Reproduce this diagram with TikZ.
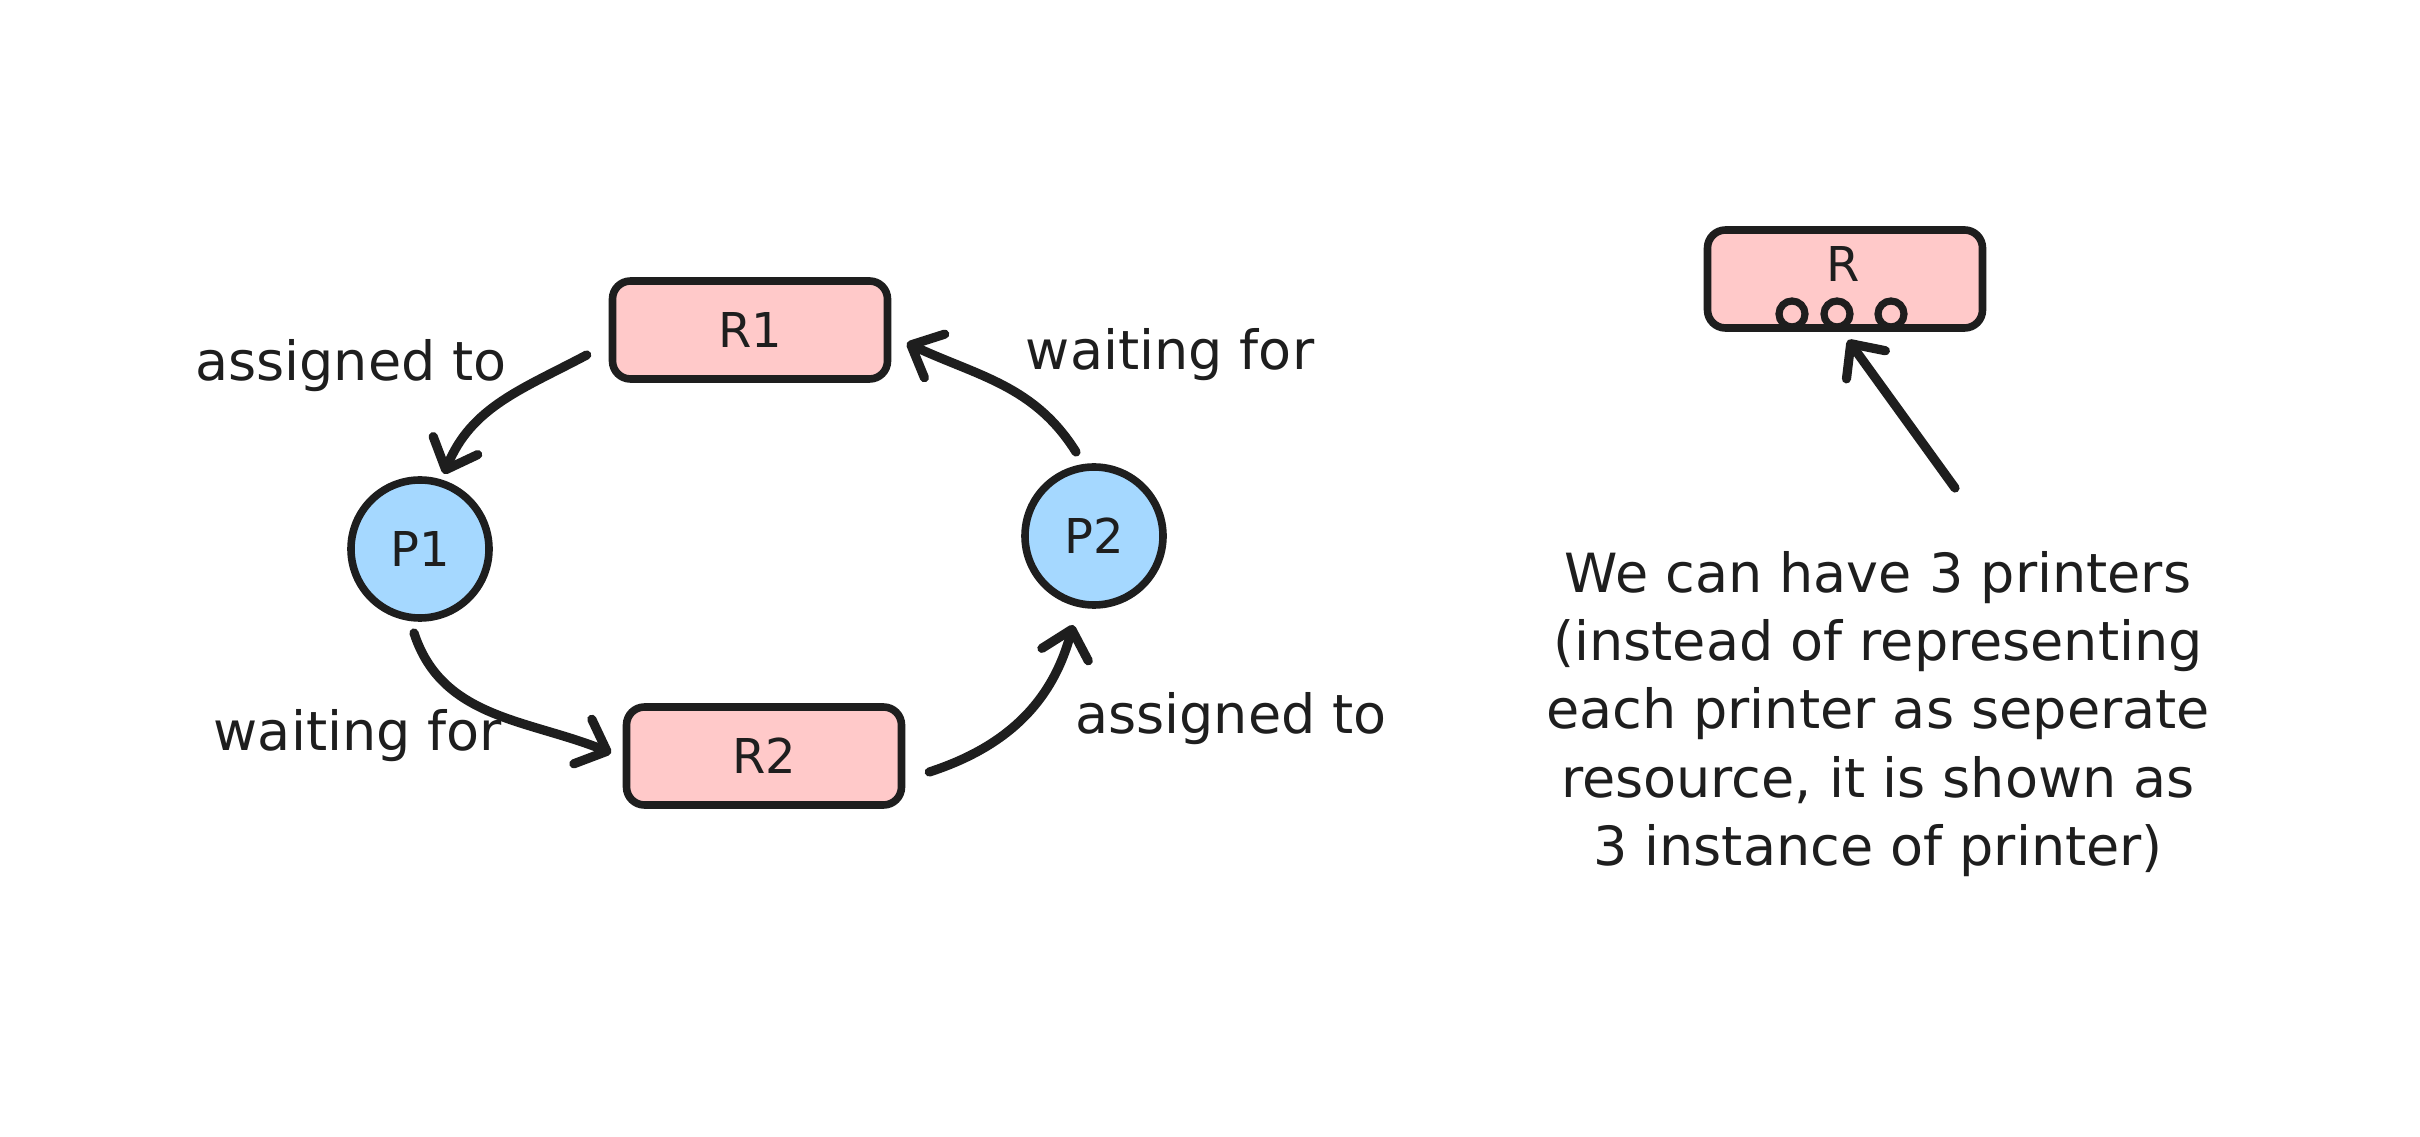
\documentclass[tikz,border=0pt]{standalone}
\usepackage{fontspec}
\setmainfont{DejaVu Sans}
\usetikzlibrary{arrows.meta}
\definecolor{ink}{HTML}{1E1E1E}
\definecolor{rfill}{HTML}{FFC9C9}
\definecolor{pfill}{HTML}{A5D8FF}
\begin{document}
\begin{tikzpicture}[x=1pt,y=1pt,
  res/.style={draw=ink, fill=rfill, line width=3.8pt, rounded corners=9pt, minimum width=137.5pt, minimum height=49pt, inner sep=0pt, font=\fontsize{24}{28}\selectfont, text=ink},
  proc/.style={draw=ink, fill=pfill, line width=3.8pt, circle, minimum size=69pt, inner sep=0pt, font=\fontsize{24}{28}\selectfont, text=ink},
  lbl/.style={font=\fontsize{27}{32}\selectfont, text=ink, inner sep=0pt},
  arr/.style={draw=ink, line width=4.6pt, line cap=round, -{Straight Barb[length=13pt,width=24pt,round]}},
  inst/.style={draw=ink, line width=3.6pt, circle, minimum size=13pt, inner sep=0pt}
]
\fill[white] (0,0) rectangle (1210,568);
\useasboundingbox (0,0) rectangle (1210,568);

% left graph
\node[res]  (R1) at (375,403) {R1};
\node[proc] (P1) at (210,293.5) {P1};
\node[proc] (P2) at (547,300) {P2};
\node[res]  (R2) at (382,190) {R2};

\node[lbl] (a1) at (175.5,385) {assigned to};
\node[lbl] (w1) at (585,390.5) {waiting for};
\node[lbl] (w2) at (179,200) {waiting for};
\node[lbl] (a2) at (615.5,208.5) {assigned to};

\draw[arr] ([xshift=-11pt,yshift=-12.5pt]R1.west) to[out=208,in=68] ([shift={(12,37.5)}]P1.center);
\draw[arr] ([shift={(-3,-42)}]P1.center) to[out=-72,in=158] ([xshift=-5.75pt,yshift=1.5pt]R2.west);
\draw[arr] ([xshift=12pt,yshift=-8pt]R2.east) to[out=18,in=-105] ([shift={(-10.5,-44.5)}]P2.center);
\draw[arr] ([shift={(-9,42)}]P2.center) to[out=122,in=-25] ([xshift=7.75pt,yshift=-6.5pt]R1.east);

% right part
\node[res] (R) at (922.5,428.5) {};
\node[font=\fontsize{24}{28}\selectfont, text=ink, inner sep=0pt] (Rl) at (921.5,436) {R};
\node[inst] (c1) at (896,411) {};
\node[inst] (c2) at (918.5,411) {};
\node[inst] (c3) at (945.5,411) {};
\coordinate (tail) at (977.5,324);
\draw[arr] (tail) -- ([shift={(5.5,-13)}]c2.center);

\node[lbl, align=center, font=\fontsize{27}{34.2}\selectfont] (note) at (939,211) {We can have 3 printers\\(instead of representing\\each printer as seperate\\resource, it is shown as\\3 instance of printer)};
\end{tikzpicture}
\end{document}
